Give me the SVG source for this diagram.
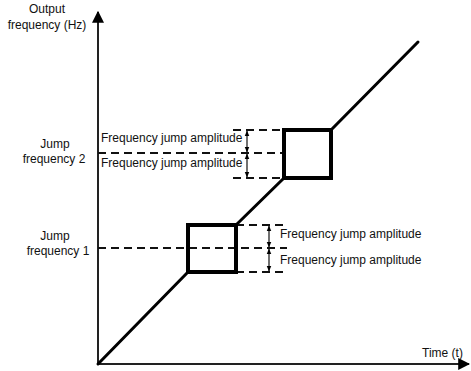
<svg xmlns="http://www.w3.org/2000/svg" width="471" height="371" viewBox="0 0 471 371">
<style>
text{font-family:"Liberation Sans",Arial,sans-serif;font-size:12px;fill:#111}
.ax{stroke:#222;stroke-width:2;fill:none}
.diag{stroke:#000;stroke-width:3;fill:none;stroke-linecap:round}
.box{stroke:#000;stroke-width:4;fill:none}
.dash{stroke:#111;stroke-width:2;stroke-dasharray:8,5;fill:none}
.dim{stroke:#111;stroke-width:1.2;fill:none;marker-start:url(#sa);marker-end:url(#sa)}
</style>
<defs>
<marker id="big" viewBox="0 0 10 10" refX="9" refY="5" markerWidth="6" markerHeight="6" orient="auto" markerUnits="strokeWidth"><path d="M0,0L10,5L0,10z" fill="#000"/></marker>
<marker id="sa" viewBox="0 0 10 10" refX="9" refY="5" markerWidth="5" markerHeight="5" orient="auto-start-reverse" markerUnits="strokeWidth"><path d="M0,1L10,5L0,9z" fill="#000"/></marker>
</defs>
<g id="axes">
<line class="ax" x1="98" y1="365" x2="98" y2="12" marker-end="url(#big)"/>
<line class="ax" x1="97" y1="364" x2="469" y2="364" marker-end="url(#big)"/>
</g>
<g id="connectors">
<polyline class="diag" points="98,364 188,272"/>
<polyline class="diag" points="236,225 284,178"/>
<polyline class="diag" points="331,130 418,42"/>
<line class="dash" x1="98" y1="248" x2="287" y2="248"/>
<line class="dash" x1="236" y1="225" x2="287" y2="225"/>
<line class="dash" x1="236" y1="272" x2="287" y2="272"/>
<line class="dash" x1="98" y1="153" x2="284" y2="153"/>
<line class="dash" x1="233" y1="130" x2="284" y2="130"/>
<line class="dash" x1="233" y1="178" x2="284" y2="178"/>
<line class="dim" x1="247" y1="131" x2="247" y2="152"/>
<line class="dim" x1="247" y1="154" x2="247" y2="177"/>
<line class="dim" x1="269" y1="226" x2="269" y2="247"/>
<line class="dim" x1="269" y1="249" x2="269" y2="271"/>
</g>
<g id="box1"><rect class="box" x="188" y="225" width="48" height="47"/></g>
<g id="box2"><rect class="box" x="284" y="130" width="47" height="48"/></g>
<g id="labels">
<text x="47" y="13" text-anchor="middle">Output</text>
<text x="47" y="29" text-anchor="middle">frequency (Hz)</text>
<text x="55" y="148" text-anchor="middle">Jump</text>
<text x="54" y="163" text-anchor="middle">frequency  2</text>
<text x="55" y="240" text-anchor="middle">Jump</text>
<text x="58" y="255" text-anchor="middle">frequency  1</text>
<text x="101" y="142">Frequency jump amplitude</text>
<text x="101" y="167">Frequency jump amplitude</text>
<text x="280" y="238">Frequency jump amplitude</text>
<text x="280" y="264">Frequency jump amplitude</text>
<text x="422" y="357">Time (t)</text>
</g>
</svg>
